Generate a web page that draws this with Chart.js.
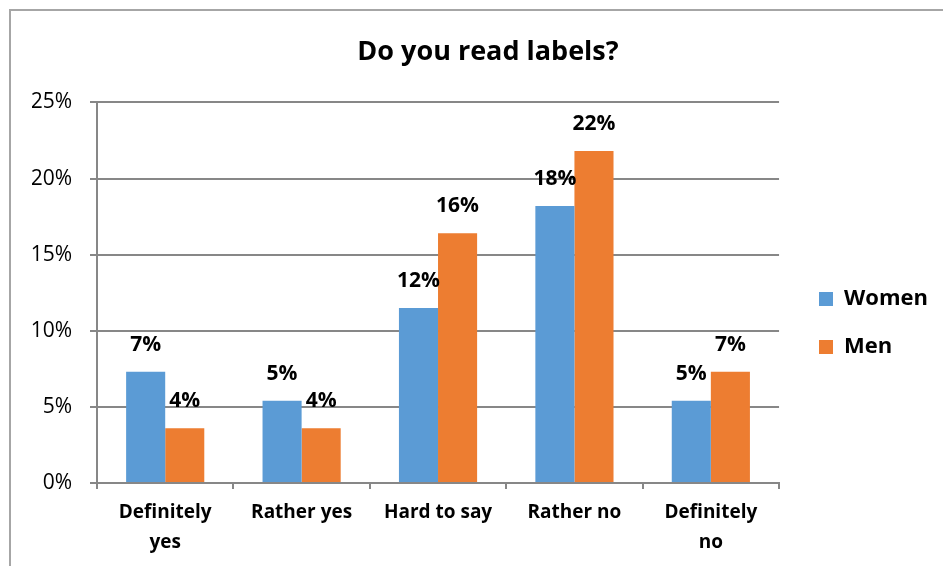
<!DOCTYPE html>
<html>
<head>
<meta charset="utf-8">
<script src="https://cdn.jsdelivr.net/npm/chart.js@4.4.1/dist/chart.umd.min.js"></script>
<style>
  html, body { margin: 0; padding: 0; background: #fff; }
  #wrap { position: relative; width: 943px; height: 566px; }
  #frame { position: absolute; left: 9px; top: 9px; right: -10px; bottom: -10px; border-left: 2px solid #a6a6a6; border-top: 2px solid #a6a6a6; pointer-events: none; }
</style>
</head>
<body>
<div id="wrap">
  <canvas id="chart" width="943" height="566"></canvas>
  <div id="frame"></div>
</div>
<script>
const categories = [['Definitely', 'yes'], 'Rather yes', 'Hard to say', 'Rather no', ['Definitely', 'no']]
const women = [7.3, 5.4, 11.5, 18.2, 5.4]
const men = [3.6, 3.6, 16.4, 21.8, 7.3]
const yTicks = [0, 5, 10, 15, 20, 25]

const FONT = '"Open Sans", Lato, sans-serif'
const AXIS_GREY = '#878787'

// percent labels above each bar
const valueLabels = {
  id: 'valueLabels',
  afterDatasetsDraw (chart) {
    const ctx = chart.ctx
    ctx.save()
    ctx.font = `bold 21px ${FONT}`
    ctx.fillStyle = '#000'
    ctx.textAlign = 'center'
    ctx.textBaseline = 'middle'
    chart.data.datasets.forEach((ds, i) => {
      chart.getDatasetMeta(i).data.forEach((bar, j) => {
        ctx.fillText(`${Math.round(ds.data[j])}%`, bar.x, bar.y - 27)
      })
    })
    ctx.restore()
  },
}

// nudge legend and title to their spots around the plot
const boxShift = {
  id: 'boxShift',
  afterLayout (chart) {
    const lg = chart.legend
    const dx = 793 - lg.left
    const dy = 262 - lg.top
    lg.left += dx; lg.right += dx
    lg.top += dy; lg.bottom += dy
    const tb = chart.titleBlock
    tb.left += 10; tb.right += 10
  },
}

new Chart(document.getElementById('chart'), {
  type: 'bar',
  data: {
    labels: categories,
    datasets: [
      { label: 'Women', data: women, backgroundColor: '#5B9BD5' },
      { label: 'Men', data: men, backgroundColor: '#ED7D31' },
    ],
  },
  options: {
    responsive: false,
    animation: false,
    categoryPercentage: 0.573,
    barPercentage: 1,
    layout: { padding: { left: 32, right: 19, top: 0, bottom: 0 } },
    plugins: {
      title: {
        display: true,
        text: 'Do you read labels?',
        color: '#000',
        font: { family: FONT, size: 27, weight: 'bold', lineHeight: 1.2 },
        padding: { top: 36, bottom: 34 },
      },
      legend: {
        position: 'right',
        align: 'start',
        labels: {
          color: '#000',
          font: { family: FONT, size: 22, weight: 'bold' },
          boxWidth: 14,
          boxHeight: 14,
          padding: 26,
        },
      },
      tooltip: { enabled: false },
    },
    scales: {
      x: {
        grid: { offset: true, drawOnChartArea: false, drawTicks: true, tickLength: 6, color: AXIS_GREY, lineWidth: 2 },
        border: { color: AXIS_GREY, width: 2 },
        ticks: {
          color: '#000',
          padding: 9,
          maxRotation: 0,
          font: { family: FONT, size: 19, weight: 'bold', lineHeight: 1.55 },
        },
        afterFit (scale) { scale.height = 83 },
      },
      y: {
        min: 0,
        max: 25,
        afterBuildTicks (scale) { scale.ticks = yTicks.map(v => ({ value: v })) },
        grid: { color: AXIS_GREY, lineWidth: 2, tickLength: 7 },
        border: { color: AXIS_GREY, width: 2 },
        ticks: {
          color: '#000',
          padding: 18,
          font: { family: FONT, size: 21 },
          callback: (v) => `${v}%`,
        },
        afterFit (scale) { scale.width = 65 },
      },
    },
  },
  plugins: [valueLabels, boxShift],
})
</script>
</body>
</html>
